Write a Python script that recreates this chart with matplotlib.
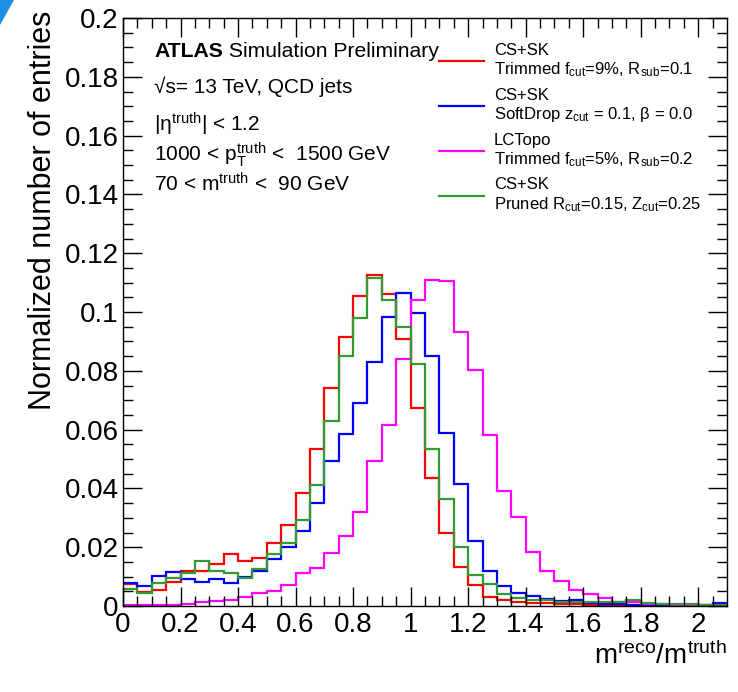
import numpy as np
import matplotlib
matplotlib.use('Agg')
import matplotlib.pyplot as plt
from matplotlib.patches import Polygon

plt.rcParams['font.family'] = ['Liberation Sans', 'DejaVu Sans']
plt.rcParams['mathtext.default'] = 'regular'

# histogram binning: 42 bins of 0.05 from 0 to 2.1
x_min, x_max, n_bins = 0.0, 2.1, 42
edges = np.linspace(x_min, x_max, n_bins + 1)

# normalized entries per bin
cssk_trimmed = [0.0076, 0.0048, 0.0055, 0.0082, 0.0118, 0.0120, 0.0142, 0.0176, 0.0152, 0.0162,
                0.0213, 0.0274, 0.0385, 0.0534, 0.0741, 0.0914, 0.1055, 0.1127, 0.1060, 0.0908,
                0.0672, 0.0437, 0.0247, 0.0134, 0.0071, 0.0031, 0.0022, 0.0015, 0.0009, 0.0009,
                0.0007, 0.0006, 0.0004, 0.0004, 0.0003, 0.0003, 0.0002, 0.0002, 0.0002, 0.0001,
                0.0001, 0.0001]
cssk_softdrop = [0.0079, 0.0069, 0.0102, 0.0117, 0.0091, 0.0083, 0.0093, 0.0079, 0.0099, 0.0118,
                 0.0160, 0.0200, 0.0256, 0.0349, 0.0493, 0.0584, 0.0689, 0.0831, 0.0982, 0.1063,
                 0.0998, 0.0850, 0.0587, 0.0414, 0.0221, 0.0120, 0.0067, 0.0044, 0.0033, 0.0024,
                 0.0018, 0.0020, 0.0010, 0.0008, 0.0006, 0.0005, 0.0005, 0.0004, 0.0004, 0.0003,
                 0.0003, 0.0009]
lctopo_trimmed = [0.0003, 0.0003, 0.0004, 0.0005, 0.0008, 0.0012, 0.0016, 0.0021, 0.0029, 0.0045,
                  0.0051, 0.0071, 0.0111, 0.0128, 0.0179, 0.0238, 0.0321, 0.0494, 0.0614, 0.0841,
                  0.1042, 0.1109, 0.1104, 0.0932, 0.0802, 0.0580, 0.0392, 0.0304, 0.0185, 0.0120,
                  0.0085, 0.0055, 0.0040, 0.0026, 0.0013, 0.0012, 0.0008, 0.0006, 0.0005, 0.0004,
                  0.0003, 0.0002]
cssk_pruned = [0.0058, 0.0043, 0.0079, 0.0094, 0.0111, 0.0153, 0.0118, 0.0113, 0.0094, 0.0125,
               0.0177, 0.0214, 0.0293, 0.0412, 0.0629, 0.0849, 0.0980, 0.1117, 0.1040, 0.0949,
               0.0824, 0.0533, 0.0363, 0.0200, 0.0105, 0.0075, 0.0042, 0.0027, 0.0022, 0.0019,
               0.0015, 0.0015, 0.0012, 0.0012, 0.0015, 0.0021, 0.0011, 0.0008, 0.0008, 0.0006,
               0.0005, 0.0004]

labels = ['CS+SK\nTrimmed f$_{cut}$=9%, R$_{sub}$=0.1',
          'CS+SK\nSoftDrop z$_{cut}$ = 0.1, $\\beta$ = 0.0',
          'LCTopo\nTrimmed f$_{cut}$=5%, R$_{sub}$=0.2',
          'CS+SK\nPruned R$_{cut}$=0.15, Z$_{cut}$=0.25']
colors = ['#ff0000', '#0000ff', '#ff00ff', '#339933']

W, H = 738, 692
fig = plt.figure(figsize=(W / 100, H / 100), dpi=100)
ax = fig.add_axes([123 / W, 1 - 606 / H, 604 / W, 588 / H])

for vals, lab, col in zip([cssk_trimmed, cssk_softdrop, lctopo_trimmed, cssk_pruned], labels, colors):
    ax.stairs(vals, edges, baseline=None, color=col, linewidth=1.6, label=lab)

ax.set_xlim(x_min, x_max)
ax.set_ylim(0, 0.2)
ax.set_xticks(np.arange(0, 2.01, 0.2))
ax.set_xticks(np.arange(0, 2.1, 0.05), minor=True)
ax.set_yticks(np.arange(0, 0.201, 0.02))
ax.set_yticks(np.arange(0, 0.2, 0.005), minor=True)
ax.xaxis.set_major_formatter(plt.FuncFormatter(lambda v, p: '%g' % round(v, 3)))
ax.yaxis.set_major_formatter(plt.FuncFormatter(lambda v, p: '%g' % round(v, 3)))
ax.tick_params(which='both', direction='in', top=True, right=True, width=1, labelsize=20)
ax.tick_params(which='major', length=13.5)
ax.tick_params(which='minor', length=7)
ax.tick_params(axis='x', pad=4)
ax.tick_params(axis='y', pad=3)
for s in ax.spines.values():
    s.set_linewidth(1)

ax.set_ylabel('Normalized number of entries', fontsize=22, loc='top')
ax.yaxis.set_label_coords(-0.108, 1.012)
ax.set_xlabel('$m^{reco}/m^{truth}$', fontsize=20, loc='right')
ax.xaxis.set_label_coords(1.0, -0.06)

ax.legend(loc='upper left', bbox_to_anchor=(0.523, 0.958), frameon=False, fontsize=12,
          borderpad=0, borderaxespad=0, handlelength=2.7, handletextpad=0.6,
          labelspacing=0.5)

def fpos(x, y):
    return x / W, 1 - y / H

# ATLAS label, the rest of the line placed right after the bold part
atl = fig.text(*fpos(154, 57), 'ATLAS', fontsize=15.2, fontweight='bold', va='baseline')
ax.annotate(' Simulation Preliminary', xy=(1, 0), xycoords=atl, fontsize=15.2, va='bottom')
fig.text(*fpos(154, 93), '\u221as= 13 TeV, QCD jets', fontsize=15, va='baseline')
fig.text(*fpos(154, 132), '|$\\eta^{truth}$| < 1.2', fontsize=15, va='baseline')
fig.text(*fpos(154, 161), '1000 < p$_{T}^{truth}$ <  1500 GeV', fontsize=15, va='baseline')
fig.text(*fpos(154, 191), '70 < m$^{truth}$ <  90 GeV', fontsize=15, va='baseline')

# blue corner mark from the screenshot
fig.patches.append(Polygon([fpos(0, 0), fpos(14, 0), fpos(0, 25)], closed=True,
                           transform=fig.transFigure, facecolor='#1b8ee6', edgecolor='none'))

fig.savefig('out.png', dpi=100)
